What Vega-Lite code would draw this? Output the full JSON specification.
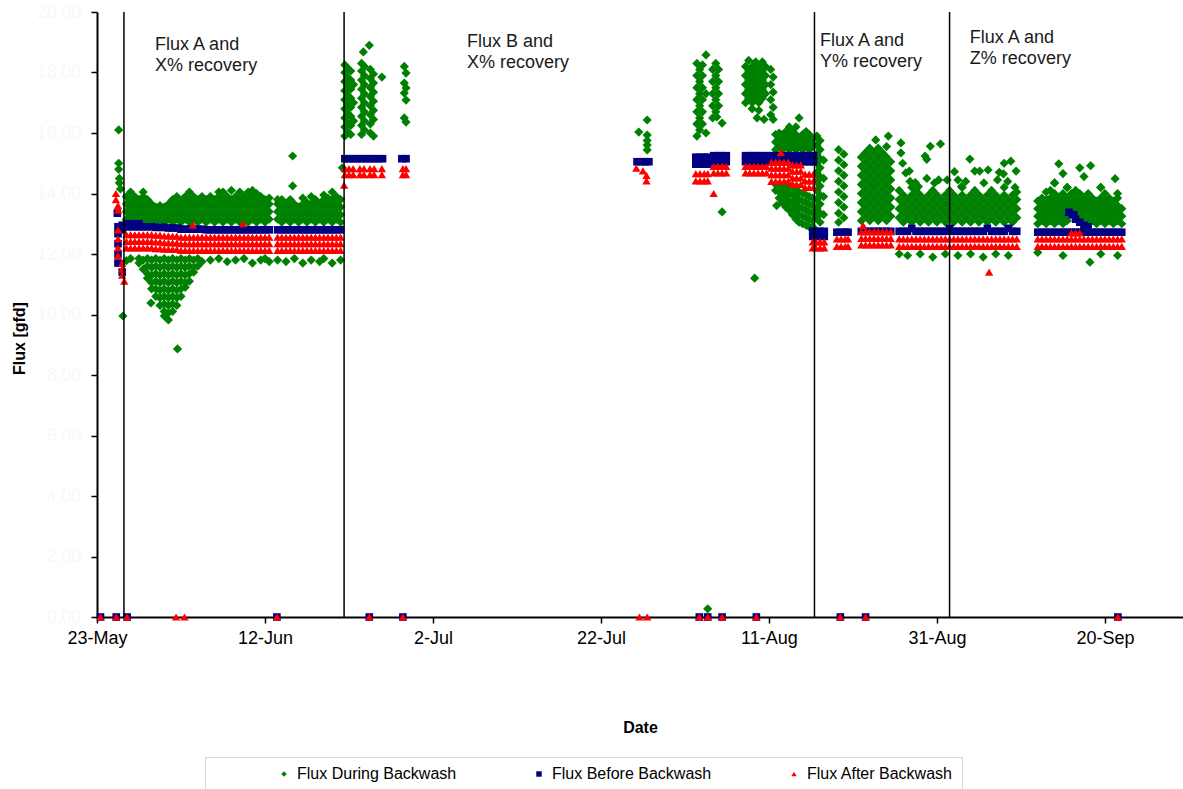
{
"$schema":"https://vega.github.io/schema/vega-lite/v6.json",
"width":1086,"height":605,
"autosize":{"type":"none"},
"padding":{"left":97,"top":12,"right":0,"bottom":172},
"background":"#ffffff",
"config":{"view":{"stroke":null},"font":"Liberation Sans","axis":{"grid":false,"domainColor":"#000000","domainWidth":2,"tickColor":"#000000","tickWidth":1.5,"tickSize":6,"labelFont":"Liberation Sans","titleFont":"Liberation Sans","titleColor":"#000000","titleFontWeight":"bold","titleFontSize":16}},
"encoding":{"x":{"field":"t","type":"temporal","title":"Date","scale":{"domain":[{"year":1900,"month":5,"date":23},{"year":1900,"month":9,"date":29,"hours":7}],"nice":false},"axis":{"values":[{"year":1900,"month":5,"date":23},{"year":1900,"month":6,"date":12},{"year":1900,"month":7,"date":2},{"year":1900,"month":7,"date":22},{"year":1900,"month":8,"date":11},{"year":1900,"month":8,"date":31},{"year":1900,"month":9,"date":20}],"format":"%-d-%b","labelFontSize":18,"labelColor":"#000000","labelPadding":6,"labelFlush":false,"labelOverlap":false,"titleY":110,"titleBaseline":"middle"}}},
"layer":[
{"data":{"format":{"parse":{"t":"date:'%j %H'"}},"values":[
{"t":"215 17","v":0.27},
{"t":"145 14","v":16.1},{"t":"145 14","v":15.0},{"t":"145 14","v":14.8},{"t":"145 16","v":14.5},{"t":"145 16","v":14.35},{"t":"145 19","v":14.15},{"t":"146 02","v":9.95},
{"t":"146 12","v":13.15},{"t":"146 12","v":13.4},{"t":"146 12","v":13.65},{"t":"146 12","v":13.9},{"t":"146 12","v":11.78},
{"t":"147 00","v":13.05},{"t":"147 00","v":13.3},{"t":"147 00","v":13.55},{"t":"147 00","v":13.8},{"t":"147 00","v":14.05},{"t":"147 00","v":11.85},
{"t":"147 12","v":13.15},{"t":"147 12","v":13.4},{"t":"147 12","v":13.65},{"t":"147 12","v":13.9},
{"t":"148 00","v":13.05},{"t":"148 00","v":13.3},{"t":"148 00","v":13.55},{"t":"148 00","v":13.8},{"t":"148 00","v":11.85},{"t":"148 00","v":11.7},
{"t":"148 12","v":13.15},{"t":"148 12","v":13.4},{"t":"148 12","v":13.65},{"t":"148 12","v":13.9},{"t":"148 12","v":14.05},{"t":"148 12","v":11.8},{"t":"148 12","v":11.5},
{"t":"149 00","v":13.05},{"t":"149 00","v":13.3},{"t":"149 00","v":13.55},{"t":"149 00","v":13.8},{"t":"149 00","v":11.85},{"t":"149 00","v":11.6},{"t":"149 00","v":11.35},{"t":"149 00","v":11.2},
{"t":"149 10","v":10.38},
{"t":"149 12","v":13.15},{"t":"149 12","v":13.4},{"t":"149 12","v":13.65},{"t":"149 12","v":11.8},{"t":"149 12","v":11.55},{"t":"149 12","v":11.3},{"t":"149 12","v":11.05},{"t":"149 12","v":10.85},
{"t":"150 00","v":13.05},{"t":"150 00","v":13.3},{"t":"150 00","v":13.55},{"t":"150 00","v":11.85},{"t":"150 00","v":11.6},{"t":"150 00","v":11.35},{"t":"150 00","v":11.1},{"t":"150 00","v":10.85},{"t":"150 00","v":10.6},
{"t":"150 12","v":13.15},{"t":"150 12","v":13.4},{"t":"150 12","v":13.6},{"t":"150 12","v":11.8},{"t":"150 12","v":11.55},{"t":"150 12","v":11.3},{"t":"150 12","v":11.05},{"t":"150 12","v":10.8},{"t":"150 12","v":10.55},{"t":"150 12","v":10.3},
{"t":"151 00","v":13.05},{"t":"151 00","v":13.3},{"t":"151 00","v":13.55},{"t":"151 00","v":11.85},{"t":"151 00","v":11.6},{"t":"151 00","v":11.35},{"t":"151 00","v":11.1},{"t":"151 00","v":10.85},{"t":"151 00","v":10.6},{"t":"151 00","v":10.35},{"t":"151 00","v":10.1},{"t":"151 00","v":9.95},
{"t":"151 12","v":13.15},{"t":"151 12","v":13.4},{"t":"151 12","v":13.65},{"t":"151 12","v":11.8},{"t":"151 12","v":11.55},{"t":"151 12","v":11.3},{"t":"151 12","v":11.05},{"t":"151 12","v":10.8},{"t":"151 12","v":10.55},{"t":"151 12","v":10.3},{"t":"151 12","v":10.05},{"t":"151 12","v":9.82},
{"t":"152 00","v":13.05},{"t":"152 00","v":13.3},{"t":"152 00","v":13.55},{"t":"152 00","v":13.8},{"t":"152 00","v":11.85},{"t":"152 00","v":11.6},{"t":"152 00","v":11.35},{"t":"152 00","v":11.1},{"t":"152 00","v":10.85},{"t":"152 00","v":10.6},{"t":"152 00","v":10.35},{"t":"152 00","v":10.1},
{"t":"152 12","v":13.15},{"t":"152 12","v":13.4},{"t":"152 12","v":13.65},{"t":"152 12","v":13.9},{"t":"152 12","v":11.8},{"t":"152 12","v":11.55},{"t":"152 12","v":11.3},{"t":"152 12","v":11.05},{"t":"152 12","v":10.8},{"t":"152 12","v":10.55},{"t":"152 12","v":10.3},
{"t":"152 14","v":8.86},
{"t":"153 00","v":13.05},{"t":"153 00","v":13.3},{"t":"153 00","v":13.55},{"t":"153 00","v":13.75},{"t":"153 00","v":11.85},{"t":"153 00","v":11.6},{"t":"153 00","v":11.35},{"t":"153 00","v":11.1},{"t":"153 00","v":10.85},{"t":"153 00","v":10.6},
{"t":"153 12","v":13.15},{"t":"153 12","v":13.4},{"t":"153 12","v":13.65},{"t":"153 12","v":13.9},{"t":"153 12","v":11.8},{"t":"153 12","v":11.55},{"t":"153 12","v":11.3},{"t":"153 12","v":11.05},{"t":"153 12","v":10.9},
{"t":"154 00","v":13.05},{"t":"154 00","v":13.3},{"t":"154 00","v":13.55},{"t":"154 00","v":13.8},{"t":"154 00","v":14.05},{"t":"154 00","v":11.85},{"t":"154 00","v":11.6},{"t":"154 00","v":11.35},{"t":"154 00","v":11.1},
{"t":"154 12","v":13.15},{"t":"154 12","v":13.4},{"t":"154 12","v":13.65},{"t":"154 12","v":13.9},{"t":"154 12","v":11.8},{"t":"154 12","v":11.55},{"t":"154 12","v":11.4},
{"t":"155 00","v":13.05},{"t":"155 00","v":13.3},{"t":"155 00","v":13.55},{"t":"155 00","v":13.8},{"t":"155 00","v":11.85},{"t":"155 00","v":11.6},
{"t":"155 12","v":13.15},{"t":"155 12","v":13.4},{"t":"155 12","v":13.65},{"t":"155 12","v":13.9},{"t":"155 12","v":11.75},
{"t":"156 00","v":13.05},{"t":"156 00","v":13.3},{"t":"156 00","v":13.55},{"t":"156 00","v":13.8},
{"t":"156 12","v":13.15},{"t":"156 12","v":13.4},{"t":"156 12","v":13.65},{"t":"156 12","v":13.9},{"t":"156 12","v":11.8},
{"t":"157 00","v":13.05},{"t":"157 00","v":13.3},{"t":"157 00","v":13.55},{"t":"157 00","v":13.8},
{"t":"157 12","v":13.15},{"t":"157 12","v":13.4},{"t":"157 12","v":13.65},{"t":"157 12","v":13.9},{"t":"157 12","v":14.05},{"t":"157 12","v":11.85},
{"t":"158 00","v":13.05},{"t":"158 00","v":13.3},{"t":"158 00","v":13.55},{"t":"158 00","v":13.8},{"t":"158 00","v":14.05},
{"t":"158 12","v":13.15},{"t":"158 12","v":13.4},{"t":"158 12","v":13.65},{"t":"158 12","v":13.9},{"t":"158 12","v":11.75},
{"t":"159 00","v":13.05},{"t":"159 00","v":13.3},{"t":"159 00","v":13.55},{"t":"159 00","v":13.8},{"t":"159 00","v":14.1},
{"t":"159 12","v":13.15},{"t":"159 12","v":13.4},{"t":"159 12","v":13.65},{"t":"159 12","v":13.9},{"t":"159 12","v":11.8},
{"t":"160 00","v":13.05},{"t":"160 00","v":13.3},{"t":"160 00","v":13.55},{"t":"160 00","v":13.8},{"t":"160 00","v":14.05},
{"t":"160 12","v":13.15},{"t":"160 12","v":13.4},{"t":"160 12","v":13.65},{"t":"160 12","v":13.9},{"t":"160 12","v":11.85},
{"t":"161 00","v":13.05},{"t":"161 00","v":13.3},{"t":"161 00","v":13.55},{"t":"161 00","v":13.8},{"t":"161 00","v":14.05},
{"t":"161 12","v":13.15},{"t":"161 12","v":13.4},{"t":"161 12","v":13.65},{"t":"161 12","v":13.9},{"t":"161 12","v":14.1},{"t":"161 12","v":11.7},
{"t":"162 00","v":13.05},{"t":"162 00","v":13.3},{"t":"162 00","v":13.55},{"t":"162 00","v":13.8},{"t":"162 00","v":14.0},
{"t":"162 12","v":13.15},{"t":"162 12","v":13.4},{"t":"162 12","v":13.65},{"t":"162 12","v":13.9},{"t":"162 12","v":11.8},
{"t":"163 00","v":13.05},{"t":"163 00","v":13.3},{"t":"163 00","v":13.55},{"t":"163 00","v":13.8},{"t":"163 00","v":11.85},
{"t":"163 12","v":13.15},{"t":"163 12","v":13.4},{"t":"163 12","v":13.65},{"t":"163 12","v":13.85},{"t":"163 12","v":11.75},
{"t":"164 12","v":13.15},{"t":"164 12","v":13.4},{"t":"164 12","v":13.65},{"t":"164 12","v":13.8},{"t":"164 12","v":11.8},
{"t":"165 00","v":13.05},{"t":"165 00","v":13.3},{"t":"165 00","v":13.55},{"t":"165 00","v":13.8},
{"t":"165 12","v":13.15},{"t":"165 12","v":13.4},{"t":"165 12","v":13.65},{"t":"165 12","v":11.75},
{"t":"166 00","v":13.05},{"t":"166 00","v":13.3},{"t":"166 00","v":13.55},{"t":"166 00","v":13.8},
{"t":"166 07","v":15.24},{"t":"166 07","v":14.25},
{"t":"166 12","v":13.15},{"t":"166 12","v":13.4},{"t":"166 12","v":13.65},{"t":"166 12","v":11.85},
{"t":"167 00","v":13.05},{"t":"167 00","v":13.3},{"t":"167 00","v":13.55},
{"t":"167 12","v":13.15},{"t":"167 12","v":13.4},{"t":"167 12","v":13.65},{"t":"167 12","v":13.85},{"t":"167 12","v":11.7},
{"t":"168 00","v":13.05},{"t":"168 00","v":13.3},{"t":"168 00","v":13.55},{"t":"168 00","v":13.7},
{"t":"168 12","v":13.15},{"t":"168 12","v":13.4},{"t":"168 12","v":13.65},{"t":"168 12","v":13.9},{"t":"168 12","v":11.8},
{"t":"169 00","v":13.05},{"t":"169 00","v":13.3},{"t":"169 00","v":13.55},{"t":"169 00","v":13.8},
{"t":"169 12","v":13.15},{"t":"169 12","v":13.4},{"t":"169 12","v":13.65},{"t":"169 12","v":11.75},
{"t":"170 00","v":13.05},{"t":"170 00","v":13.3},{"t":"170 00","v":13.55},{"t":"170 00","v":13.8},{"t":"170 00","v":13.95},{"t":"170 00","v":11.85},
{"t":"170 12","v":13.15},{"t":"170 12","v":13.4},{"t":"170 12","v":13.65},{"t":"170 12","v":13.85},
{"t":"171 00","v":13.05},{"t":"171 00","v":13.3},{"t":"171 00","v":13.55},{"t":"171 00","v":13.8},{"t":"171 00","v":14.05},{"t":"171 00","v":11.7},
{"t":"171 12","v":13.15},{"t":"171 12","v":13.4},{"t":"171 12","v":13.65},{"t":"171 12","v":13.9},
{"t":"172 00","v":13.05},{"t":"172 00","v":13.3},{"t":"172 00","v":13.55},{"t":"172 00","v":13.8},{"t":"172 00","v":11.8},
{"t":"172 05","v":14.85},
{"t":"172 12","v":15.9},{"t":"172 12","v":16.2},{"t":"172 12","v":16.5},{"t":"172 12","v":16.8},{"t":"172 12","v":17.1},{"t":"172 12","v":17.4},{"t":"172 12","v":17.7},{"t":"172 12","v":18.0},{"t":"172 12","v":18.25},
{"t":"172 20","v":16.05},{"t":"172 20","v":16.35},{"t":"172 20","v":16.65},{"t":"172 20","v":16.95},{"t":"172 20","v":17.25},{"t":"172 20","v":17.55},{"t":"172 20","v":17.85},{"t":"172 20","v":18.15},
{"t":"173 05","v":15.95},{"t":"173 05","v":16.25},{"t":"173 05","v":16.55},{"t":"173 05","v":16.85},{"t":"173 05","v":17.15},{"t":"173 05","v":17.45},{"t":"173 05","v":17.75},{"t":"173 05","v":18.05},
{"t":"173 13","v":16.4},{"t":"173 13","v":17.0},{"t":"173 13","v":17.6},
{"t":"174 12","v":15.95},{"t":"174 12","v":16.25},{"t":"174 12","v":16.55},{"t":"174 12","v":16.85},{"t":"174 12","v":17.15},{"t":"174 12","v":17.45},{"t":"174 12","v":17.75},{"t":"174 12","v":18.05},{"t":"174 12","v":18.3},
{"t":"174 17","v":18.68},
{"t":"174 20","v":16.1},{"t":"174 20","v":16.4},{"t":"174 20","v":16.7},{"t":"174 20","v":17.0},{"t":"174 20","v":17.3},{"t":"174 20","v":17.6},{"t":"174 20","v":17.9},{"t":"174 20","v":18.2},
{"t":"175 10","v":18.9},
{"t":"175 13","v":16.0},{"t":"175 13","v":16.3},{"t":"175 13","v":16.6},{"t":"175 13","v":16.9},{"t":"175 13","v":17.2},{"t":"175 13","v":17.5},{"t":"175 13","v":17.8},{"t":"175 13","v":18.1},
{"t":"175 22","v":15.9},{"t":"175 22","v":16.45},{"t":"175 22","v":16.75},{"t":"175 22","v":17.05},{"t":"175 22","v":17.35},{"t":"175 22","v":17.65},{"t":"175 22","v":17.95},
{"t":"176 22","v":17.85},
{"t":"179 14","v":18.2},{"t":"179 14","v":17.65},{"t":"179 14","v":17.32},{"t":"179 14","v":16.5},
{"t":"179 19","v":17.98},{"t":"179 19","v":17.49},{"t":"179 19","v":17.09},{"t":"179 19","v":16.36},
{"t":"207 12","v":16.03},
{"t":"208 12","v":16.43},{"t":"208 12","v":15.93},{"t":"208 12","v":15.75},{"t":"208 12","v":15.6},{"t":"208 12","v":15.44},
{"t":"214 10","v":15.9},{"t":"214 10","v":16.3},{"t":"214 10","v":16.7},{"t":"214 10","v":17.1},{"t":"214 10","v":17.5},{"t":"214 10","v":17.9},{"t":"214 10","v":18.3},
{"t":"214 18","v":16.1},{"t":"214 18","v":16.5},{"t":"214 18","v":16.9},{"t":"214 18","v":17.3},{"t":"214 18","v":17.7},{"t":"214 18","v":18.1},
{"t":"215 02","v":16.3},{"t":"215 02","v":16.7},{"t":"215 02","v":17.1},{"t":"215 02","v":17.5},{"t":"215 02","v":17.9},{"t":"215 02","v":18.25},
{"t":"215 12","v":18.58},{"t":"215 12","v":16.0},{"t":"215 12","v":17.3},
{"t":"216 07","v":16.5},{"t":"216 07","v":16.9},{"t":"216 07","v":17.3},{"t":"216 07","v":17.7},{"t":"216 07","v":18.1},
{"t":"216 16","v":16.7},{"t":"216 16","v":17.1},{"t":"216 16","v":17.5},{"t":"216 16","v":17.9},{"t":"216 16","v":18.3},
{"t":"216 19","v":16.53},
{"t":"217 00","v":16.9},{"t":"217 00","v":17.3},{"t":"217 00","v":17.7},{"t":"217 00","v":18.1},
{"t":"217 10","v":16.33},{"t":"217 10","v":13.39},
{"t":"220 05","v":17.0},{"t":"220 05","v":17.3},{"t":"220 05","v":17.6},{"t":"220 05","v":17.9},{"t":"220 05","v":18.2},
{"t":"220 14","v":17.15},{"t":"220 14","v":17.45},{"t":"220 14","v":17.75},{"t":"220 14","v":18.05},{"t":"220 14","v":18.4},
{"t":"221 00","v":16.8},{"t":"221 00","v":17.0},{"t":"221 00","v":17.3},{"t":"221 00","v":17.6},{"t":"221 00","v":17.9},{"t":"221 00","v":18.2},
{"t":"221 07","v":11.2},
{"t":"221 10","v":17.15},{"t":"221 10","v":17.45},{"t":"221 10","v":17.75},{"t":"221 10","v":18.05},{"t":"221 10","v":18.35},
{"t":"221 14","v":16.5},
{"t":"221 19","v":16.75},{"t":"221 19","v":17.0},{"t":"221 19","v":17.3},{"t":"221 19","v":17.6},{"t":"221 19","v":17.9},{"t":"221 19","v":18.2},
{"t":"222 05","v":17.15},{"t":"222 05","v":17.45},{"t":"222 05","v":17.75},{"t":"222 05","v":18.05},{"t":"222 05","v":18.35},
{"t":"222 10","v":16.45},
{"t":"222 14","v":17.3},{"t":"222 14","v":17.6},{"t":"222 14","v":17.9},{"t":"222 14","v":18.2},
{"t":"223 05","v":18.1},{"t":"223 05","v":17.6},{"t":"223 05","v":17.1},{"t":"223 05","v":16.6},
{"t":"223 12","v":17.85},{"t":"223 12","v":17.35},{"t":"223 12","v":16.85},{"t":"223 12","v":16.45},
{"t":"223 19","v":15.45},{"t":"223 19","v":15.7},{"t":"223 19","v":15.95},{"t":"223 19","v":14.3},{"t":"223 19","v":14.1},
{"t":"223 22","v":13.6},
{"t":"224 05","v":15.55},{"t":"224 05","v":15.8},{"t":"224 05","v":16.0},{"t":"224 05","v":14.3},{"t":"224 05","v":14.05},{"t":"224 05","v":13.85},
{"t":"224 14","v":15.45},{"t":"224 14","v":15.7},{"t":"224 14","v":15.95},{"t":"224 14","v":14.2},{"t":"224 14","v":13.95},{"t":"224 14","v":13.7},
{"t":"225 00","v":15.55},{"t":"225 00","v":15.8},{"t":"225 00","v":16.05},{"t":"225 00","v":14.3},{"t":"225 00","v":14.05},{"t":"225 00","v":13.8},{"t":"225 00","v":13.55},
{"t":"225 10","v":15.45},{"t":"225 10","v":15.7},{"t":"225 10","v":15.95},{"t":"225 10","v":16.2},{"t":"225 10","v":14.2},{"t":"225 10","v":13.95},{"t":"225 10","v":13.7},{"t":"225 10","v":13.45},
{"t":"225 19","v":15.55},{"t":"225 19","v":15.8},{"t":"225 19","v":16.05},{"t":"225 19","v":14.25},{"t":"225 19","v":14.0},{"t":"225 19","v":13.75},{"t":"225 19","v":13.5},{"t":"225 19","v":13.3},
{"t":"226 05","v":15.45},{"t":"226 05","v":15.7},{"t":"226 05","v":15.95},{"t":"226 05","v":16.2},{"t":"226 05","v":14.15},{"t":"226 05","v":13.9},{"t":"226 05","v":13.65},{"t":"226 05","v":13.4},{"t":"226 05","v":13.15},
{"t":"226 14","v":15.55},{"t":"226 14","v":15.8},{"t":"226 14","v":16.5},{"t":"226 14","v":14.05},{"t":"226 14","v":13.8},{"t":"226 14","v":13.55},{"t":"226 14","v":13.3},{"t":"226 14","v":13.05},
{"t":"227 00","v":15.45},{"t":"227 00","v":15.7},{"t":"227 00","v":15.95},{"t":"227 00","v":14.0},{"t":"227 00","v":13.75},{"t":"227 00","v":13.5},{"t":"227 00","v":13.25},{"t":"227 00","v":13.0},
{"t":"227 10","v":15.55},{"t":"227 10","v":15.8},{"t":"227 10","v":16.05},{"t":"227 10","v":13.95},{"t":"227 10","v":13.7},{"t":"227 10","v":13.45},{"t":"227 10","v":13.2},{"t":"227 10","v":12.95},
{"t":"227 19","v":15.45},{"t":"227 19","v":15.7},{"t":"227 19","v":15.95},{"t":"227 19","v":13.9},{"t":"227 19","v":13.65},{"t":"227 19","v":13.4},{"t":"227 19","v":13.15},{"t":"227 19","v":12.9},
{"t":"228 05","v":15.55},{"t":"228 05","v":15.8},{"t":"228 05","v":13.85},{"t":"228 05","v":13.6},{"t":"228 05","v":13.35},{"t":"228 05","v":13.1},{"t":"228 05","v":12.9},
{"t":"228 17","v":15.9},{"t":"228 17","v":15.6},{"t":"228 17","v":15.3},{"t":"228 17","v":15.0},{"t":"228 17","v":14.7},{"t":"228 17","v":14.4},{"t":"228 17","v":14.1},{"t":"228 17","v":13.8},{"t":"228 17","v":13.5},{"t":"228 17","v":13.2},
{"t":"229 02","v":15.75},{"t":"229 02","v":15.45},{"t":"229 02","v":15.15},{"t":"229 02","v":14.85},{"t":"229 02","v":14.55},{"t":"229 02","v":14.25},{"t":"229 02","v":13.95},{"t":"229 02","v":13.65},{"t":"229 02","v":13.35},{"t":"229 02","v":13.05},
{"t":"229 12","v":15.1},{"t":"229 12","v":14.5},{"t":"229 12","v":13.9},{"t":"229 12","v":13.3},
{"t":"231 07","v":15.45},{"t":"231 07","v":15.1},{"t":"231 07","v":14.75},{"t":"231 07","v":14.4},{"t":"231 07","v":14.05},{"t":"231 07","v":13.7},{"t":"231 07","v":13.35},{"t":"231 07","v":13.05},
{"t":"231 22","v":15.3},{"t":"231 22","v":14.95},{"t":"231 22","v":14.6},{"t":"231 22","v":14.25},{"t":"231 22","v":13.9},{"t":"231 22","v":13.55},{"t":"231 22","v":13.2},
{"t":"234 00","v":13.1},{"t":"234 00","v":13.4},{"t":"234 00","v":13.7},{"t":"234 00","v":14.0},{"t":"234 00","v":14.3},{"t":"234 00","v":14.6},{"t":"234 00","v":14.9},{"t":"234 00","v":15.2},
{"t":"234 12","v":13.25},{"t":"234 12","v":13.55},{"t":"234 12","v":13.85},{"t":"234 12","v":14.15},{"t":"234 12","v":14.45},{"t":"234 12","v":14.75},{"t":"234 12","v":15.05},{"t":"234 12","v":15.35},
{"t":"235 00","v":13.1},{"t":"235 00","v":13.4},{"t":"235 00","v":13.7},{"t":"235 00","v":14.0},{"t":"235 00","v":14.3},{"t":"235 00","v":14.6},{"t":"235 00","v":14.9},{"t":"235 00","v":15.2},{"t":"235 00","v":15.5},
{"t":"235 12","v":13.25},{"t":"235 12","v":13.55},{"t":"235 12","v":13.85},{"t":"235 12","v":14.15},{"t":"235 12","v":14.45},{"t":"235 12","v":14.75},{"t":"235 12","v":15.05},{"t":"235 12","v":15.35},
{"t":"235 17","v":15.77},
{"t":"236 00","v":13.1},{"t":"236 00","v":13.4},{"t":"236 00","v":13.7},{"t":"236 00","v":14.0},{"t":"236 00","v":14.3},{"t":"236 00","v":14.6},{"t":"236 00","v":14.9},{"t":"236 00","v":15.2},{"t":"236 00","v":15.5},
{"t":"236 12","v":13.25},{"t":"236 12","v":13.55},{"t":"236 12","v":13.85},{"t":"236 12","v":14.15},{"t":"236 12","v":14.45},{"t":"236 12","v":14.75},{"t":"236 12","v":15.05},{"t":"236 12","v":15.35},
{"t":"237 00","v":13.1},{"t":"237 00","v":13.4},{"t":"237 00","v":13.7},{"t":"237 00","v":14.0},{"t":"237 00","v":14.3},{"t":"237 00","v":14.6},{"t":"237 00","v":14.9},{"t":"237 00","v":15.2},{"t":"237 00","v":15.55},
{"t":"237 05","v":15.9},
{"t":"237 12","v":13.25},{"t":"237 12","v":13.55},{"t":"237 12","v":13.85},{"t":"237 12","v":14.15},{"t":"237 12","v":14.45},{"t":"237 12","v":14.75},{"t":"237 12","v":15.05},
{"t":"238 12","v":13.2},{"t":"238 12","v":13.5},{"t":"238 12","v":13.8},{"t":"238 12","v":14.1},{"t":"238 12","v":12.0},
{"t":"239 00","v":13.05},{"t":"239 00","v":13.35},{"t":"239 00","v":13.65},{"t":"239 00","v":13.95},
{"t":"239 12","v":13.2},{"t":"239 12","v":13.5},{"t":"239 12","v":13.8},{"t":"239 12","v":11.95},
{"t":"240 00","v":13.05},{"t":"240 00","v":13.35},{"t":"240 00","v":13.65},{"t":"240 00","v":13.95},{"t":"240 00","v":14.2},
{"t":"240 12","v":13.2},{"t":"240 12","v":13.5},{"t":"240 12","v":13.8},{"t":"240 12","v":14.09},
{"t":"241 00","v":13.05},{"t":"241 00","v":13.35},{"t":"241 00","v":13.65},{"t":"241 00","v":13.95},{"t":"241 00","v":12.0},
{"t":"241 12","v":13.2},{"t":"241 12","v":13.5},{"t":"241 12","v":13.8},
{"t":"242 00","v":13.05},{"t":"242 00","v":13.35},{"t":"242 00","v":13.65},{"t":"242 00","v":13.95},
{"t":"242 12","v":13.2},{"t":"242 12","v":13.5},{"t":"242 12","v":13.8},{"t":"242 12","v":14.1},{"t":"242 12","v":11.9},
{"t":"243 00","v":13.05},{"t":"243 00","v":13.35},{"t":"243 00","v":13.65},{"t":"243 00","v":13.95},
{"t":"243 12","v":13.2},{"t":"243 12","v":13.5},{"t":"243 12","v":13.8},
{"t":"244 00","v":13.05},{"t":"244 00","v":13.35},{"t":"244 00","v":13.65},{"t":"244 00","v":13.95},{"t":"244 00","v":12.0},
{"t":"244 12","v":13.2},{"t":"244 12","v":13.5},{"t":"244 12","v":13.8},{"t":"244 12","v":14.1},
{"t":"245 00","v":13.05},{"t":"245 00","v":13.35},{"t":"245 00","v":13.65},{"t":"245 00","v":13.95},
{"t":"245 12","v":13.2},{"t":"245 12","v":13.5},{"t":"245 12","v":13.8},{"t":"245 12","v":11.95},
{"t":"246 00","v":13.05},{"t":"246 00","v":13.35},{"t":"246 00","v":13.65},{"t":"246 00","v":13.95},{"t":"246 00","v":14.2},
{"t":"246 12","v":13.2},{"t":"246 12","v":13.5},{"t":"246 12","v":13.8},
{"t":"247 00","v":13.05},{"t":"247 00","v":13.35},{"t":"247 00","v":13.65},{"t":"247 00","v":13.95},{"t":"247 00","v":12.0},
{"t":"247 12","v":13.2},{"t":"247 12","v":13.5},{"t":"247 12","v":13.8},{"t":"247 12","v":14.1},
{"t":"248 00","v":13.05},{"t":"248 00","v":13.35},{"t":"248 00","v":13.65},{"t":"248 00","v":13.95},
{"t":"248 12","v":13.2},{"t":"248 12","v":13.5},{"t":"248 12","v":13.8},{"t":"248 12","v":11.9},
{"t":"249 00","v":13.05},{"t":"249 00","v":13.35},{"t":"249 00","v":13.65},{"t":"249 00","v":13.95},
{"t":"249 12","v":13.2},{"t":"249 12","v":13.5},{"t":"249 12","v":13.8},{"t":"249 12","v":14.1},
{"t":"250 00","v":13.05},{"t":"250 00","v":13.35},{"t":"250 00","v":13.65},{"t":"250 00","v":13.95},{"t":"250 00","v":12.0},
{"t":"250 12","v":13.2},{"t":"250 12","v":13.5},{"t":"250 12","v":13.8},
{"t":"251 00","v":13.05},{"t":"251 00","v":13.35},{"t":"251 00","v":13.65},{"t":"251 00","v":13.95},{"t":"251 00","v":14.2},
{"t":"251 12","v":13.2},{"t":"251 12","v":13.5},{"t":"251 12","v":13.8},{"t":"251 12","v":11.95},
{"t":"252 00","v":13.05},{"t":"252 00","v":13.35},{"t":"252 00","v":13.65},{"t":"252 00","v":13.95},
{"t":"252 12","v":13.2},{"t":"252 12","v":13.5},{"t":"252 12","v":13.8},{"t":"252 12","v":14.05},
{"t":"238 17","v":15.67},{"t":"238 17","v":15.34},{"t":"238 22","v":15.0},{"t":"239 07","v":14.68},{"t":"239 17","v":14.74},{"t":"239 19","v":14.4},{"t":"240 10","v":14.36},{"t":"240 19","v":14.23},{"t":"241 14","v":15.24},{"t":"241 19","v":15.13},{"t":"241 19","v":14.5},{"t":"242 05","v":15.56},{"t":"242 17","v":14.35},{"t":"243 05","v":14.45},{"t":"243 10","v":15.64},{"t":"244 05","v":14.45},{"t":"245 02","v":14.72},{"t":"245 12","v":14.45},{"t":"245 22","v":14.23},{"t":"246 10","v":14.4},{"t":"246 22","v":15.14},{"t":"247 12","v":14.74},{"t":"248 02","v":14.74},{"t":"248 14","v":14.35},{"t":"249 02","v":14.78},{"t":"250 05","v":14.45},{"t":"250 10","v":14.7},{"t":"250 22","v":14.65},{"t":"251 00","v":15.0},{"t":"251 10","v":14.4},{"t":"251 19","v":15.07},{"t":"252 07","v":14.2},{"t":"252 10","v":14.74},
{"t":"255 00","v":13.0},{"t":"255 00","v":13.25},{"t":"255 00","v":13.5},{"t":"255 00","v":13.75},{"t":"255 00","v":12.05},
{"t":"255 12","v":13.1},{"t":"255 12","v":13.35},{"t":"255 12","v":13.6},{"t":"255 12","v":13.85},
{"t":"256 00","v":13.0},{"t":"256 00","v":13.25},{"t":"256 00","v":13.5},{"t":"256 00","v":13.75},{"t":"256 00","v":14.05},
{"t":"256 12","v":13.1},{"t":"256 12","v":13.35},{"t":"256 12","v":13.6},{"t":"256 12","v":13.85},{"t":"256 12","v":14.1},
{"t":"257 00","v":13.0},{"t":"257 00","v":13.25},{"t":"257 00","v":13.5},{"t":"257 00","v":13.75},{"t":"257 00","v":14.0},{"t":"257 00","v":14.35},
{"t":"257 12","v":13.1},{"t":"257 12","v":13.35},{"t":"257 12","v":13.6},{"t":"257 12","v":13.85},{"t":"257 12","v":14.98},
{"t":"258 00","v":13.0},{"t":"258 00","v":13.25},{"t":"258 00","v":13.5},{"t":"258 00","v":13.75},{"t":"258 00","v":14.0},{"t":"258 00","v":14.66},{"t":"258 00","v":11.95},
{"t":"258 12","v":13.1},{"t":"258 12","v":13.35},{"t":"258 12","v":13.6},{"t":"258 12","v":13.85},{"t":"258 12","v":14.2},
{"t":"259 00","v":13.5},{"t":"259 00","v":13.75},{"t":"259 00","v":14.0},
{"t":"259 12","v":13.35},{"t":"259 12","v":13.6},{"t":"259 12","v":13.85},{"t":"259 12","v":14.1},
{"t":"260 00","v":13.25},{"t":"260 00","v":13.5},{"t":"260 00","v":13.75},{"t":"260 00","v":14.0},{"t":"260 00","v":14.85},
{"t":"260 12","v":13.1},{"t":"260 12","v":13.35},{"t":"260 12","v":13.6},{"t":"260 12","v":13.85},{"t":"260 12","v":14.56},
{"t":"261 00","v":13.0},{"t":"261 00","v":13.25},{"t":"261 00","v":13.5},{"t":"261 00","v":13.75},{"t":"261 00","v":14.0},{"t":"261 05","v":11.73},
{"t":"261 07","v":14.92},
{"t":"261 12","v":13.1},{"t":"261 12","v":13.35},{"t":"261 12","v":13.6},{"t":"261 12","v":13.85},
{"t":"262 00","v":13.0},{"t":"262 00","v":13.25},{"t":"262 00","v":13.5},{"t":"262 00","v":13.75},
{"t":"262 12","v":13.1},{"t":"262 12","v":13.35},{"t":"262 12","v":13.6},{"t":"262 12","v":13.85},{"t":"262 12","v":14.2},{"t":"262 12","v":12.0},
{"t":"263 00","v":13.0},{"t":"263 00","v":13.25},{"t":"263 00","v":13.5},{"t":"263 00","v":13.75},{"t":"263 00","v":14.0},
{"t":"263 12","v":13.1},{"t":"263 12","v":13.35},{"t":"263 12","v":13.6},{"t":"263 12","v":13.85},
{"t":"264 00","v":13.0},{"t":"264 00","v":13.25},{"t":"264 00","v":13.5},{"t":"264 00","v":13.75},{"t":"264 05","v":14.49},
{"t":"264 12","v":13.1},{"t":"264 12","v":13.35},{"t":"264 12","v":13.6},{"t":"264 12","v":13.85},{"t":"264 12","v":14.0},{"t":"264 12","v":11.95},
{"t":"265 00","v":13.0},{"t":"265 00","v":13.25},{"t":"265 00","v":13.5},
{"t":"256 02","v":13.8},{"t":"257 00","v":14.35},{"t":"258 12","v":14.2},{"t":"262 12","v":14.2}
]},
"mark":{"type":"point","filled":true,"size":85,"opacity":1,"strokeWidth":0},
"encoding":{
"y":{"field":"v","type":"quantitative","title":"Flux [gfd]","scale":{"domain":[0,20],"nice":false},"axis":{"values":[0,2,4,6,8,10,12,14,16,18,20],"format":".2f","labelColor":"#f8f8f8","labelFontSize":18,"labelPadding":10,"titleX":-78,"titleY":326,"titleAngle":-90,"titleAlign":"center","titleBaseline":"middle"}},
"color":{"datum":"Flux During Backwash","type":"nominal","scale":{"domain":["Flux During Backwash","Flux Before Backwash","Flux After Backwash"],"range":["#008000","#000080","#ff0000"]},"legend":{"title":" ","orient":"none","legendX":108,"legendY":745,"direction":"horizontal","columns":3,"padding":9,"strokeColor":"#d9d9d9","fillColor":"#ffffff","symbolSize":30,"symbolStrokeWidth":0,"labelFontSize":16,"labelFont":"Liberation Sans","labelColor":"#000000","labelOffset":5,"labelLimit":300,"columnPadding":74,"titleOrient":"left","titlePadding":62}},
"shape":{"datum":"Flux During Backwash","type":"nominal","scale":{"domain":["Flux During Backwash","Flux Before Backwash","Flux After Backwash"],"range":["diamond","square","triangle-up"]},"legend":{"title":" ","orient":"none","legendX":108,"legendY":745,"direction":"horizontal","columns":3,"padding":9,"strokeColor":"#d9d9d9","fillColor":"#ffffff","symbolSize":30,"symbolStrokeWidth":0,"labelFontSize":16,"labelFont":"Liberation Sans","labelColor":"#000000","labelOffset":5,"labelLimit":300,"columnPadding":74,"titleOrient":"left","titlePadding":62}}
}},
{"data":{"format":{"parse":{"t":"date:'%j %H'"}},"values":[
{"t":"143 10","v":0},{"t":"145 07","v":0},{"t":"146 14","v":0},{"t":"164 10","v":0},{"t":"175 10","v":0},{"t":"179 10","v":0},{"t":"214 17","v":0},{"t":"215 17","v":0},{"t":"217 10","v":0},{"t":"221 12","v":0},{"t":"231 12","v":0},{"t":"234 12","v":0},{"t":"264 13","v":0},
{"t":"145 10","v":13.35},{"t":"145 12","v":12.9},{"t":"145 12","v":12.67},{"t":"145 12","v":12.34},{"t":"145 12","v":12.0},{"t":"145 12","v":11.7},{"t":"146 00","v":11.4},{"t":"146 00","v":12.8},{"t":"146 00","v":12.95},
{"t":"146 12","v":13.0},{"t":"147 00","v":13.0},{"t":"147 12","v":13.0},{"t":"148 00","v":13.0},
{"t":"146 12","v":12.9},{"t":"147 00","v":12.9},{"t":"147 12","v":12.9},{"t":"148 00","v":12.9},{"t":"148 12","v":12.9},{"t":"149 00","v":12.9},{"t":"149 12","v":12.9},{"t":"150 00","v":12.88},{"t":"150 12","v":12.88},{"t":"151 00","v":12.88},{"t":"151 12","v":12.86},{"t":"152 00","v":12.86},{"t":"152 12","v":12.86},
{"t":"153 00","v":12.82},{"t":"153 12","v":12.82},{"t":"154 00","v":12.82},{"t":"154 12","v":12.82},{"t":"155 00","v":12.82},{"t":"155 12","v":12.82},{"t":"156 00","v":12.8},{"t":"156 12","v":12.8},{"t":"157 00","v":12.8},{"t":"157 12","v":12.8},{"t":"158 00","v":12.8},{"t":"158 12","v":12.8},{"t":"159 00","v":12.8},{"t":"159 12","v":12.8},{"t":"160 00","v":12.8},{"t":"160 12","v":12.8},{"t":"161 00","v":12.8},{"t":"161 12","v":12.8},{"t":"162 00","v":12.8},{"t":"162 12","v":12.8},{"t":"163 00","v":12.8},{"t":"163 12","v":12.8},
{"t":"164 12","v":12.8},{"t":"165 00","v":12.8},{"t":"165 12","v":12.8},{"t":"166 00","v":12.8},{"t":"166 12","v":12.8},{"t":"167 00","v":12.8},{"t":"167 12","v":12.8},{"t":"168 00","v":12.8},{"t":"168 12","v":12.8},{"t":"169 00","v":12.8},{"t":"169 12","v":12.8},{"t":"170 00","v":12.8},{"t":"170 12","v":12.8},{"t":"171 00","v":12.8},{"t":"171 12","v":12.8},{"t":"172 00","v":12.8},
{"t":"172 12","v":15.15},{"t":"173 00","v":15.15},{"t":"173 12","v":15.15},{"t":"174 00","v":15.15},{"t":"174 12","v":15.15},{"t":"175 00","v":15.15},{"t":"175 12","v":15.15},{"t":"176 00","v":15.15},{"t":"176 12","v":15.15},{"t":"177 00","v":15.15},{"t":"179 07","v":15.15},{"t":"179 19","v":15.15},
{"t":"207 07","v":15.05},{"t":"207 19","v":15.05},{"t":"208 07","v":15.05},{"t":"208 17","v":15.05},
{"t":"214 07","v":15.2},{"t":"214 19","v":15.2},{"t":"215 07","v":15.2},{"t":"215 17","v":15.2},{"t":"214 07","v":14.97},{"t":"214 19","v":14.97},{"t":"215 07","v":14.97},{"t":"215 17","v":14.97},
{"t":"216 10","v":15.25},{"t":"216 22","v":15.25},{"t":"217 10","v":15.25},{"t":"217 22","v":15.25},{"t":"216 10","v":15.05},{"t":"216 22","v":15.05},{"t":"217 10","v":15.05},{"t":"217 22","v":15.05},
{"t":"220 05","v":15.25},{"t":"220 17","v":15.25},{"t":"221 05","v":15.25},{"t":"221 17","v":15.25},{"t":"222 05","v":15.25},{"t":"222 17","v":15.25},
{"t":"220 05","v":15.05},{"t":"220 17","v":15.05},{"t":"221 05","v":15.05},{"t":"221 17","v":15.05},{"t":"222 05","v":15.05},{"t":"222 17","v":15.05},
{"t":"223 07","v":15.25},{"t":"223 19","v":15.25},{"t":"224 07","v":15.25},{"t":"224 19","v":15.25},{"t":"225 07","v":15.25},{"t":"225 19","v":15.25},{"t":"226 07","v":15.25},{"t":"226 19","v":15.25},{"t":"227 07","v":15.25},{"t":"227 19","v":15.25},{"t":"228 07","v":15.25},
{"t":"223 07","v":15.05},{"t":"223 19","v":15.05},{"t":"224 07","v":15.05},{"t":"224 19","v":15.05},{"t":"225 07","v":15.05},{"t":"225 19","v":15.05},{"t":"226 07","v":15.05},{"t":"226 19","v":15.05},{"t":"227 07","v":15.05},{"t":"227 19","v":15.05},{"t":"228 07","v":15.05},
{"t":"228 05","v":12.75},{"t":"228 14","v":12.75},{"t":"229 02","v":12.75},{"t":"229 14","v":12.75},{"t":"228 05","v":12.58},{"t":"228 14","v":12.58},{"t":"229 02","v":12.58},{"t":"229 14","v":12.58},
{"t":"231 02","v":12.72},{"t":"231 14","v":12.72},{"t":"232 02","v":12.72},{"t":"232 10","v":12.72},
{"t":"234 00","v":12.75},{"t":"234 12","v":12.75},{"t":"235 00","v":12.75},{"t":"235 12","v":12.75},{"t":"236 00","v":12.75},{"t":"236 12","v":12.75},{"t":"237 00","v":12.75},{"t":"237 12","v":12.75},
{"t":"238 12","v":12.75},{"t":"239 00","v":12.75},{"t":"239 12","v":12.75},{"t":"240 00","v":12.85},{"t":"240 12","v":12.75},{"t":"241 00","v":12.75},{"t":"241 12","v":12.75},{"t":"242 00","v":12.75},{"t":"242 12","v":12.75},{"t":"243 00","v":12.75},{"t":"243 12","v":12.75},{"t":"244 00","v":12.75},{"t":"244 12","v":12.85},{"t":"245 00","v":12.75},{"t":"245 12","v":12.75},{"t":"246 00","v":12.75},{"t":"246 12","v":12.75},{"t":"247 00","v":12.75},{"t":"247 12","v":12.75},{"t":"248 00","v":12.75},{"t":"248 12","v":12.75},{"t":"249 00","v":12.85},{"t":"249 12","v":12.75},{"t":"250 00","v":12.75},{"t":"250 12","v":12.75},{"t":"251 00","v":12.75},{"t":"251 12","v":12.85},{"t":"252 00","v":12.75},{"t":"252 12","v":12.75},
{"t":"255 00","v":12.72},{"t":"255 12","v":12.72},{"t":"256 00","v":12.72},{"t":"256 12","v":12.72},{"t":"257 00","v":12.72},{"t":"257 12","v":12.72},{"t":"258 00","v":12.72},{"t":"258 12","v":12.72},{"t":"259 00","v":12.72},{"t":"259 12","v":12.72},{"t":"260 00","v":12.72},{"t":"260 12","v":12.72},{"t":"261 00","v":12.72},{"t":"261 12","v":12.72},{"t":"262 00","v":12.72},{"t":"262 12","v":12.72},{"t":"263 00","v":12.72},{"t":"263 12","v":12.72},{"t":"264 00","v":12.72},{"t":"264 12","v":12.72},{"t":"265 00","v":12.72},
{"t":"258 17","v":13.38},{"t":"259 02","v":13.3},{"t":"259 07","v":13.3},{"t":"259 12","v":13.15},{"t":"260 00","v":13.05},{"t":"260 12","v":12.95},{"t":"261 00","v":12.9}
]},
"mark":{"type":"point","filled":true,"size":58,"opacity":1,"strokeWidth":0},
"encoding":{
"y":{"field":"v","type":"quantitative","title":"Flux [gfd]","scale":{"domain":[0,20],"nice":false},"axis":{"values":[0,2,4,6,8,10,12,14,16,18,20],"format":".2f","labelColor":"#f8f8f8","labelFontSize":18,"labelPadding":10,"titleX":-78,"titleY":326,"titleAngle":-90,"titleAlign":"center","titleBaseline":"middle"}},
"color":{"datum":"Flux Before Backwash","type":"nominal","scale":{"domain":["Flux During Backwash","Flux Before Backwash","Flux After Backwash"],"range":["#008000","#000080","#ff0000"]}},
"shape":{"datum":"Flux Before Backwash","type":"nominal","scale":{"domain":["Flux During Backwash","Flux Before Backwash","Flux After Backwash"],"range":["diamond","square","triangle-up"]}}
}},
{"data":{"format":{"parse":{"t":"date:'%j %H'"}},"values":[
{"t":"143 10","v":0},{"t":"145 07","v":0},{"t":"146 14","v":0},{"t":"152 10","v":0},{"t":"153 10","v":0},{"t":"164 10","v":0},{"t":"175 10","v":0},{"t":"179 10","v":0},{"t":"207 14","v":0},{"t":"208 12","v":0},{"t":"214 17","v":0},{"t":"215 17","v":0},{"t":"217 10","v":0},{"t":"221 12","v":0},{"t":"231 12","v":0},{"t":"234 12","v":0},{"t":"264 13","v":0},
{"t":"145 06","v":14.0},{"t":"145 06","v":13.8},{"t":"145 12","v":13.6},{"t":"145 12","v":13.45},{"t":"145 12","v":12.8},{"t":"145 12","v":12.5},{"t":"145 12","v":12.2},{"t":"145 12","v":11.95},{"t":"146 00","v":11.7},{"t":"146 00","v":11.5},{"t":"146 00","v":11.3},{"t":"146 06","v":11.1},
{"t":"146 12","v":12.2},{"t":"146 12","v":12.42},{"t":"146 12","v":12.64},{"t":"147 00","v":12.2},{"t":"147 00","v":12.42},{"t":"147 00","v":12.64},{"t":"147 12","v":12.2},{"t":"147 12","v":12.42},{"t":"147 12","v":12.64},
{"t":"148 00","v":12.2},{"t":"148 00","v":12.42},{"t":"148 00","v":12.64},{"t":"148 12","v":12.2},{"t":"148 12","v":12.42},{"t":"148 12","v":12.64},{"t":"149 00","v":12.2},{"t":"149 00","v":12.42},{"t":"149 00","v":12.64},
{"t":"149 12","v":12.2},{"t":"149 12","v":12.42},{"t":"149 12","v":12.64},{"t":"150 00","v":12.18},{"t":"150 00","v":12.4},{"t":"150 00","v":12.62},{"t":"150 12","v":12.18},{"t":"150 12","v":12.4},{"t":"150 12","v":12.62},
{"t":"151 00","v":12.16},{"t":"151 00","v":12.38},{"t":"151 00","v":12.6},{"t":"151 12","v":12.16},{"t":"151 12","v":12.38},{"t":"151 12","v":12.6},{"t":"152 00","v":12.15},{"t":"152 00","v":12.37},{"t":"152 00","v":12.59},
{"t":"152 12","v":12.15},{"t":"152 12","v":12.37},{"t":"152 12","v":12.59},{"t":"153 00","v":12.12},{"t":"153 00","v":12.34},{"t":"153 00","v":12.56},{"t":"153 12","v":12.12},{"t":"153 12","v":12.34},{"t":"153 12","v":12.56},
{"t":"154 00","v":12.12},{"t":"154 00","v":12.34},{"t":"154 00","v":12.56},{"t":"154 12","v":12.12},{"t":"154 12","v":12.34},{"t":"154 12","v":12.56},{"t":"155 00","v":12.12},{"t":"155 00","v":12.34},{"t":"155 00","v":12.56},
{"t":"155 12","v":12.12},{"t":"155 12","v":12.34},{"t":"155 12","v":12.56},{"t":"156 00","v":12.12},{"t":"156 00","v":12.34},{"t":"156 00","v":12.56},{"t":"156 12","v":12.12},{"t":"156 12","v":12.34},{"t":"156 12","v":12.56},
{"t":"157 00","v":12.12},{"t":"157 00","v":12.34},{"t":"157 00","v":12.56},{"t":"157 12","v":12.12},{"t":"157 12","v":12.34},{"t":"157 12","v":12.56},{"t":"158 00","v":12.12},{"t":"158 00","v":12.34},{"t":"158 00","v":12.56},
{"t":"158 12","v":12.12},{"t":"158 12","v":12.34},{"t":"158 12","v":12.56},{"t":"159 00","v":12.12},{"t":"159 00","v":12.34},{"t":"159 00","v":12.56},{"t":"159 12","v":12.12},{"t":"159 12","v":12.34},{"t":"159 12","v":12.56},
{"t":"160 00","v":12.12},{"t":"160 00","v":12.34},{"t":"160 00","v":12.56},{"t":"160 12","v":12.12},{"t":"160 12","v":12.34},{"t":"160 12","v":12.56},{"t":"161 00","v":12.12},{"t":"161 00","v":12.34},{"t":"161 00","v":12.56},
{"t":"161 12","v":12.12},{"t":"161 12","v":12.34},{"t":"161 12","v":12.56},{"t":"162 00","v":12.12},{"t":"162 00","v":12.34},{"t":"162 00","v":12.56},{"t":"162 12","v":12.12},{"t":"162 12","v":12.34},{"t":"162 12","v":12.56},
{"t":"163 00","v":12.12},{"t":"163 00","v":12.34},{"t":"163 00","v":12.56},{"t":"163 12","v":12.12},{"t":"163 12","v":12.34},{"t":"163 12","v":12.56},
{"t":"164 12","v":12.12},{"t":"164 12","v":12.34},{"t":"164 12","v":12.56},{"t":"165 00","v":12.12},{"t":"165 00","v":12.34},{"t":"165 00","v":12.56},{"t":"165 12","v":12.12},{"t":"165 12","v":12.34},{"t":"165 12","v":12.56},
{"t":"166 00","v":12.12},{"t":"166 00","v":12.34},{"t":"166 00","v":12.56},{"t":"166 12","v":12.12},{"t":"166 12","v":12.34},{"t":"166 12","v":12.56},{"t":"167 00","v":12.12},{"t":"167 00","v":12.34},{"t":"167 00","v":12.56},
{"t":"167 12","v":12.12},{"t":"167 12","v":12.34},{"t":"167 12","v":12.56},{"t":"168 00","v":12.12},{"t":"168 00","v":12.34},{"t":"168 00","v":12.56},{"t":"168 12","v":12.12},{"t":"168 12","v":12.34},{"t":"168 12","v":12.56},
{"t":"169 00","v":12.12},{"t":"169 00","v":12.34},{"t":"169 00","v":12.56},{"t":"169 12","v":12.12},{"t":"169 12","v":12.34},{"t":"169 12","v":12.56},{"t":"170 00","v":12.12},{"t":"170 00","v":12.34},{"t":"170 00","v":12.56},
{"t":"170 12","v":12.12},{"t":"170 12","v":12.34},{"t":"170 12","v":12.56},{"t":"171 00","v":12.12},{"t":"171 00","v":12.34},{"t":"171 00","v":12.56},{"t":"171 12","v":12.12},{"t":"171 12","v":12.34},{"t":"171 12","v":12.56},
{"t":"172 00","v":12.12},{"t":"172 00","v":12.34},{"t":"172 00","v":12.56},
{"t":"154 10","v":12.96},{"t":"160 10","v":13.0},
{"t":"172 10","v":14.28},
{"t":"172 12","v":14.62},{"t":"172 12","v":14.82},{"t":"173 00","v":14.62},{"t":"173 00","v":14.82},{"t":"173 12","v":14.62},{"t":"173 12","v":14.82},{"t":"174 07","v":14.62},{"t":"174 07","v":14.82},{"t":"174 19","v":14.62},{"t":"174 19","v":14.82},{"t":"175 12","v":14.62},{"t":"175 12","v":14.82},{"t":"176 00","v":14.62},{"t":"176 00","v":14.82},{"t":"176 22","v":14.62},{"t":"176 22","v":14.82},{"t":"179 10","v":14.62},{"t":"179 10","v":14.82},{"t":"179 19","v":14.62},{"t":"179 19","v":14.82},
{"t":"207 05","v":14.84},{"t":"208 00","v":14.75},{"t":"208 10","v":14.6},{"t":"208 10","v":14.42},
{"t":"214 07","v":14.42},{"t":"214 07","v":14.66},{"t":"214 19","v":14.42},{"t":"214 19","v":14.66},{"t":"215 07","v":14.42},{"t":"215 07","v":14.66},{"t":"215 17","v":14.42},{"t":"215 17","v":14.66},
{"t":"216 10","v":14.68},{"t":"216 10","v":14.9},{"t":"216 22","v":14.68},{"t":"216 22","v":14.9},{"t":"217 10","v":14.68},{"t":"217 10","v":14.9},{"t":"217 22","v":14.68},{"t":"217 22","v":14.9},{"t":"216 10","v":14.0},
{"t":"220 05","v":14.68},{"t":"220 05","v":14.9},{"t":"220 17","v":14.68},{"t":"220 17","v":14.9},{"t":"221 05","v":14.68},{"t":"221 05","v":14.9},{"t":"221 17","v":14.68},{"t":"221 17","v":14.9},{"t":"222 05","v":14.68},{"t":"222 05","v":14.9},{"t":"222 17","v":14.68},{"t":"222 17","v":14.9},
{"t":"223 07","v":14.4},{"t":"223 07","v":14.62},{"t":"223 07","v":14.84},{"t":"223 07","v":15.04},{"t":"223 19","v":14.4},{"t":"223 19","v":14.62},{"t":"223 19","v":14.84},{"t":"223 19","v":15.04},
{"t":"224 07","v":14.4},{"t":"224 07","v":14.62},{"t":"224 07","v":14.84},{"t":"224 07","v":15.04},{"t":"224 19","v":14.4},{"t":"224 19","v":14.62},{"t":"224 19","v":14.84},{"t":"224 19","v":15.04},
{"t":"225 07","v":14.4},{"t":"225 07","v":14.62},{"t":"225 07","v":14.84},{"t":"225 07","v":15.04},
{"t":"225 19","v":14.3},{"t":"225 19","v":14.52},{"t":"225 19","v":14.74},{"t":"225 19","v":14.95},{"t":"226 07","v":14.3},{"t":"226 07","v":14.52},{"t":"226 07","v":14.74},{"t":"226 07","v":14.95},{"t":"226 19","v":14.3},{"t":"226 19","v":14.52},{"t":"226 19","v":14.74},{"t":"226 19","v":14.95},
{"t":"227 07","v":14.2},{"t":"227 07","v":14.42},{"t":"227 07","v":14.64},{"t":"227 19","v":14.2},{"t":"227 19","v":14.42},{"t":"227 19","v":14.64},{"t":"228 07","v":14.2},{"t":"228 07","v":14.42},{"t":"228 07","v":14.64},
{"t":"224 10","v":15.36},
{"t":"228 05","v":12.2},{"t":"228 05","v":12.4},{"t":"228 14","v":12.2},{"t":"228 14","v":12.4},{"t":"229 02","v":12.2},{"t":"229 02","v":12.4},{"t":"229 14","v":12.2},{"t":"229 14","v":12.4},
{"t":"231 02","v":12.25},{"t":"231 02","v":12.5},{"t":"231 14","v":12.25},{"t":"231 14","v":12.5},{"t":"232 02","v":12.25},{"t":"232 02","v":12.5},{"t":"232 10","v":12.25},{"t":"232 10","v":12.5},
{"t":"234 00","v":12.3},{"t":"234 00","v":12.52},{"t":"234 00","v":12.74},{"t":"234 12","v":12.3},{"t":"234 12","v":12.52},{"t":"234 12","v":12.74},{"t":"235 00","v":12.3},{"t":"235 00","v":12.52},{"t":"235 00","v":12.74},{"t":"235 12","v":12.3},{"t":"235 12","v":12.52},{"t":"235 12","v":12.74},
{"t":"236 00","v":12.3},{"t":"236 00","v":12.52},{"t":"236 00","v":12.74},{"t":"236 12","v":12.3},{"t":"236 12","v":12.52},{"t":"236 12","v":12.74},{"t":"237 00","v":12.3},{"t":"237 00","v":12.52},{"t":"237 00","v":12.74},{"t":"237 12","v":12.3},{"t":"237 12","v":12.52},{"t":"237 12","v":12.74},
{"t":"234 05","v":12.95},
{"t":"238 12","v":12.25},{"t":"238 12","v":12.5},{"t":"239 00","v":12.25},{"t":"239 00","v":12.5},{"t":"239 12","v":12.25},{"t":"239 12","v":12.5},{"t":"240 00","v":12.25},{"t":"240 00","v":12.5},{"t":"240 12","v":12.25},{"t":"240 12","v":12.5},
{"t":"241 00","v":12.25},{"t":"241 00","v":12.5},{"t":"241 12","v":12.25},{"t":"241 12","v":12.5},{"t":"242 00","v":12.25},{"t":"242 00","v":12.5},{"t":"242 12","v":12.25},{"t":"242 12","v":12.5},{"t":"243 00","v":12.25},{"t":"243 00","v":12.5},
{"t":"243 12","v":12.25},{"t":"243 12","v":12.5},{"t":"244 00","v":12.25},{"t":"244 00","v":12.5},{"t":"244 12","v":12.25},{"t":"244 12","v":12.5},{"t":"245 00","v":12.25},{"t":"245 00","v":12.5},{"t":"245 12","v":12.25},{"t":"245 12","v":12.5},
{"t":"246 00","v":12.25},{"t":"246 00","v":12.5},{"t":"246 12","v":12.25},{"t":"246 12","v":12.5},{"t":"247 00","v":12.25},{"t":"247 00","v":12.5},{"t":"247 12","v":12.25},{"t":"247 12","v":12.5},{"t":"248 00","v":12.25},{"t":"248 00","v":12.5},
{"t":"248 12","v":12.25},{"t":"248 12","v":12.5},{"t":"249 00","v":12.25},{"t":"249 00","v":12.5},{"t":"249 12","v":12.25},{"t":"249 12","v":12.5},{"t":"250 00","v":12.25},{"t":"250 00","v":12.5},{"t":"250 12","v":12.25},{"t":"250 12","v":12.5},
{"t":"251 00","v":12.25},{"t":"251 00","v":12.5},{"t":"251 12","v":12.25},{"t":"251 12","v":12.5},{"t":"252 00","v":12.25},{"t":"252 00","v":12.5},{"t":"252 12","v":12.25},{"t":"252 12","v":12.5},
{"t":"249 05","v":11.4},
{"t":"255 00","v":12.25},{"t":"255 00","v":12.5},{"t":"255 12","v":12.25},{"t":"255 12","v":12.5},{"t":"256 00","v":12.25},{"t":"256 00","v":12.5},{"t":"256 12","v":12.25},{"t":"256 12","v":12.5},{"t":"257 00","v":12.25},{"t":"257 00","v":12.5},
{"t":"257 12","v":12.25},{"t":"257 12","v":12.5},{"t":"258 00","v":12.25},{"t":"258 00","v":12.5},{"t":"258 12","v":12.25},{"t":"258 12","v":12.5},{"t":"259 00","v":12.25},{"t":"259 00","v":12.5},{"t":"259 00","v":12.7},{"t":"259 12","v":12.25},{"t":"259 12","v":12.5},{"t":"259 12","v":12.7},
{"t":"260 00","v":12.25},{"t":"260 00","v":12.5},{"t":"260 00","v":12.7},{"t":"260 12","v":12.25},{"t":"260 12","v":12.5},{"t":"261 00","v":12.25},{"t":"261 00","v":12.5},{"t":"261 12","v":12.25},{"t":"261 12","v":12.5},{"t":"262 00","v":12.25},{"t":"262 00","v":12.5},
{"t":"262 12","v":12.25},{"t":"262 12","v":12.5},{"t":"263 00","v":12.25},{"t":"263 00","v":12.5},{"t":"263 12","v":12.25},{"t":"263 12","v":12.5},{"t":"264 00","v":12.25},{"t":"264 00","v":12.5},{"t":"264 12","v":12.25},{"t":"264 12","v":12.5},{"t":"265 00","v":12.25},{"t":"265 00","v":12.5}
]},
"mark":{"type":"point","filled":true,"size":70,"opacity":1,"strokeWidth":0},
"encoding":{
"y":{"field":"v","type":"quantitative","title":"Flux [gfd]","scale":{"domain":[0,20],"nice":false},"axis":{"values":[0,2,4,6,8,10,12,14,16,18,20],"format":".2f","labelColor":"#f8f8f8","labelFontSize":18,"labelPadding":10,"titleX":-78,"titleY":326,"titleAngle":-90,"titleAlign":"center","titleBaseline":"middle"}},
"color":{"datum":"Flux After Backwash","type":"nominal","scale":{"domain":["Flux During Backwash","Flux Before Backwash","Flux After Backwash"],"range":["#008000","#000080","#ff0000"]}},
"shape":{"datum":"Flux After Backwash","type":"nominal","scale":{"domain":["Flux During Backwash","Flux Before Backwash","Flux After Backwash"],"range":["diamond","square","triangle-up"]}}
}},
{"data":{"format":{"parse":{"t":"date:'%j %H'"}},"values":[{"t":"146 05"},{"t":"172 10"},{"t":"228 10"},{"t":"244 12"}]},
"mark":{"type":"rule","color":"#000000","strokeWidth":1.5},
"encoding":{}},
{"data":{"values":[{"top":20}]},
"mark":{"type":"rule","color":"#000000","strokeWidth":1.5},
"encoding":{"x":{"datum":{"year":1900,"month":5,"date":23},"type":"temporal"},"x2":{"datum":{"year":1900,"month":9,"date":29,"hours":7}},"y":{"field":"top","type":"quantitative"}}},
{"data":{"format":{"parse":{"t":"date:'%j %H'"}},"values":[
{"t":"149 22","v":18.76,"label":"Flux A and\nX% recovery"},
{"t":"187 01","v":18.83,"label":"Flux B and\nX% recovery"},
{"t":"229 02","v":18.86,"label":"Flux A and\nY% recovery"},
{"t":"246 22","v":18.96,"label":"Flux A and\nZ% recovery"}]},
"mark":{"type":"text","align":"left","baseline":"alphabetic","fontSize":18,"lineBreak":"\n","lineHeight":21,"font":"Liberation Sans","color":"#1a1a1a"},
"encoding":{
"y":{"field":"v","type":"quantitative","title":"Flux [gfd]","scale":{"domain":[0,20],"nice":false},"axis":{"values":[0,2,4,6,8,10,12,14,16,18,20],"format":".2f","labelColor":"#f8f8f8","labelFontSize":18,"labelPadding":10,"titleX":-78,"titleY":326,"titleAngle":-90,"titleAlign":"center","titleBaseline":"middle"}},
"text":{"field":"label"}}}
]
}
